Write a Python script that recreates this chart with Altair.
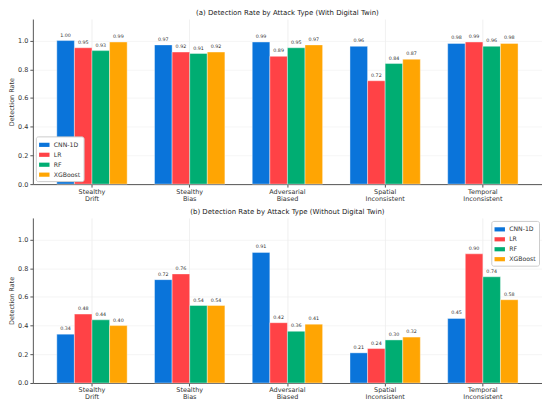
import altair as alt
import pandas as pd

attacks = ["Stealthy\nDrift", "Stealthy\nBias", "Adversarial\nBiased", "Spatial\nInconsistent", "Temporal\nInconsistent"]
models = ["CNN-1D", "LR", "RF", "XGBoost"]
colors = ["#0A74DA", "#FF4246", "#00AD72", "#FFA503"]

with_dt = {
    "CNN-1D": [1.00, 0.97, 0.99, 0.96, 0.98],
    "LR": [0.95, 0.92, 0.89, 0.72, 0.99],
    "RF": [0.93, 0.91, 0.95, 0.84, 0.96],
    "XGBoost": [0.99, 0.92, 0.97, 0.87, 0.98],
}
without_dt = {
    "CNN-1D": [0.34, 0.72, 0.91, 0.21, 0.45],
    "LR": [0.48, 0.76, 0.42, 0.24, 0.90],
    "RF": [0.44, 0.54, 0.36, 0.30, 0.74],
    "XGBoost": [0.40, 0.54, 0.41, 0.32, 0.58],
}


def table(d):
    rows = []
    for m in models:
        for a, v in zip(attacks, d[m]):
            rows.append({"attack": a, "model": m, "rate": v})
    return pd.DataFrame(rows)


def panel(d, title, legend_orient):
    df = table(d)
    base = alt.Chart(df).encode(
        x=alt.X("attack:N", sort=attacks,
                scale=alt.Scale(paddingInner=0.28, paddingOuter=0.245),
                axis=alt.Axis(title=None, labelAngle=0, labelExpr="split(datum.label, '\\n')",
                              labelFontSize=6.5, labelColor="#333", tickSize=3,
                              tickColor="#555", domainColor="#555", bandPosition=0.5,
                              grid=True, gridColor="#e6e6e6", gridWidth=0.6, labelPadding=1,
                              labelLineHeight=7)),
        xOffset=alt.XOffset("model:N", sort=models, scale=alt.Scale(paddingInner=0, paddingOuter=0)),
        y=alt.Y("rate:Q", scale=alt.Scale(domain=[0, 1.15], nice=False),
                axis=alt.Axis(title="Detection Rate", values=[0, 0.2, 0.4, 0.6, 0.8, 1.0],
                              format=".1f", labelFontSize=6.5, labelColor="#333",
                              titleFontSize=6.5, titleFontWeight="normal", titleColor="#333",
                              titlePadding=3, tickSize=3, tickColor="#555", domainColor="#555",
                              gridColor="#eeeeee", gridWidth=0.6, labelPadding=2)),
    )
    bars = base.mark_bar(stroke="white", strokeWidth=0.4).encode(
        color=alt.Color("model:N", sort=models,
                        scale=alt.Scale(domain=models, range=colors),
                        legend=alt.Legend(title=None, orient=legend_orient,
                                          symbolType="M-1,-0.4L1,-0.4L1,0.4L-1,0.4Z",
                                          symbolSize=110, labelFontSize=6.2, labelColor="#333",
                                          fillColor="white", strokeColor="#cccccc", padding=3,
                                          cornerRadius=2, rowPadding=1, offset=3,
                                          symbolStrokeWidth=0)),
    )
    labels = base.mark_text(dy=-3, fontSize=4.8, color="#333", baseline="bottom").encode(
        text=alt.Text("rate:Q", format=".2f"),
    )
    return alt.layer(bars, labels).properties(
        width=512, height=166,
        title=alt.TitleParams(title, fontSize=7, fontWeight="normal", color="#222", offset=3),
    )


top = panel(with_dt, "(a) Detection Rate by Attack Type (With Digital Twin)", "bottom-left")
bottom = panel(without_dt, "(b) Detection Rate by Attack Type (Without Digital Twin)", "top-right")

chart = alt.vconcat(top, bottom, spacing=6).resolve_legend(color="independent").configure(
    padding=0, font="DejaVu Sans"
).configure_view(stroke=None).configure_axisX(domainWidth=1).configure_axisY(domainWidth=1)

chart.save("out.html", embed_options={"renderer": "svg", "actions": False})
